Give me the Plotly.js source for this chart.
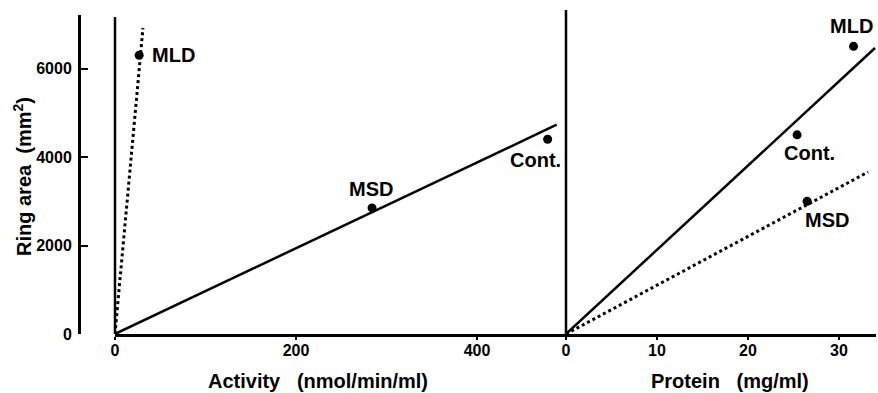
<!DOCTYPE html>
<html>
<head>
<meta charset="utf-8">
<script src="https://cdn.plot.ly/plotly-3.0.1.min.js"></script>
<style>html,body{margin:0;padding:0;background:#fff;}#chart{width:878px;height:393px;}</style>
</head>
<body>
<div id="chart"></div>
<script>
// ---- data ----
const sampleNames = ["MLD", "MSD", "Cont."];
// left panel: Activity (nmol/min/ml) vs Ring area
const activityX = [26.7, 284, 478];
const activityY = [6300, 2850, 4400];
// right panel: Protein (mg/ml) vs Ring area
const proteinX = [31.6, 26.5, 25.4];
const proteinY = [6500, 3000, 4500];
// regression lines (start, end)
const actSolidX = [0, 488];   const actSolidY = [0, 4730];
const actDotX   = [0, 30.9];  const actDotY   = [0, 6915];
const proSolidX = [0, 33.96]; const proSolidY = [0, 6463];
const proDotX   = [0, 33.2];  const proDotY   = [0, 3661];
const yTicks = [0, 2000, 4000, 6000];
const actTicks = [0, 200, 400];
const proTicks = [0, 10, 20, 30];

const FONT = "Liberation Sans, Arial, sans-serif";
const black = "#000";

const traces = [
  {x: actSolidX, y: actSolidY, xaxis: "x", yaxis: "y", mode: "lines",
   line: {color: black, width: 2.5}, hoverinfo: "skip"},
  {x: actDotX, y: actDotY, xaxis: "x", yaxis: "y", mode: "lines",
   line: {color: black, width: 3, dash: "3px,3px"}, hoverinfo: "skip"},
  {x: activityX, y: activityY, xaxis: "x", yaxis: "y", mode: "markers",
   marker: {color: black, size: 9}},
  {x: proSolidX, y: proSolidY, xaxis: "x2", yaxis: "y", mode: "lines",
   line: {color: black, width: 2.5}, hoverinfo: "skip"},
  {x: proDotX, y: proDotY, xaxis: "x2", yaxis: "y", mode: "lines",
   line: {color: black, width: 3, dash: "3px,3px"}, hoverinfo: "skip"},
  {x: proteinX, y: proteinY, xaxis: "x2", yaxis: "y", mode: "markers",
   marker: {color: black, size: 9}}
];

// label offsets (pixels) for each point label
const actOffsets = [[11, 0, "left"], [-1, 19, "center"], [-12, -21, "center"]];
const proOffsets = [[-2, 20, "center"], [20, -19, "center"], [12, -18, "center"]];

const annotations = [];
sampleNames.forEach((n, i) => {
  annotations.push({x: activityX[i], y: activityY[i], xref: "x", yref: "y", text: "<b>" + n + "</b>",
    showarrow: false, xanchor: actOffsets[i][2], yanchor: "middle",
    xshift: actOffsets[i][0], yshift: actOffsets[i][1], font: {family: FONT, size: 20, color: black}});
  annotations.push({x: proteinX[i], y: proteinY[i], xref: "x2", yref: "y", text: "<b>" + n + "</b>",
    showarrow: false, xanchor: proOffsets[i][2], yanchor: "middle",
    xshift: proOffsets[i][0], yshift: proOffsets[i][1], font: {family: FONT, size: 20, color: black}});
});
// axis titles
annotations.push({xref: "paper", yref: "paper", x: 318/878, y: (393-381)/393, showarrow: false,
  text: "<b>Activity\u00a0\u00a0\u00a0(nmol/min/ml)</b>", xanchor: "center", yanchor: "middle",
  font: {family: FONT, size: 20, color: black}});
annotations.push({xref: "paper", yref: "paper", x: 730/878, y: (393-381)/393, showarrow: false,
  text: "<b>Protein\u00a0\u00a0\u00a0(mg/ml)</b>", xanchor: "center", yanchor: "middle",
  font: {family: FONT, size: 20, color: black}});
annotations.push({xref: "paper", yref: "paper", x: 22/878, y: (393-177)/393, showarrow: false,
  text: "<b>Ring area\u00a0\u00a0(mm<sup>2</sup>)</b>", textangle: -90, xanchor: "center", yanchor: "middle",
  font: {family: FONT, size: 20, color: black}});

const yBot = (393-334)/393, yTop = (393-15)/393;
const layout = {
  width: 878, height: 393,
  margin: {l: 0, r: 0, t: 0, b: 0},
  paper_bgcolor: "#fff", plot_bgcolor: "rgba(0,0,0,0)",
  showlegend: false,
  xaxis: {domain: [115/878, 566/878], range: [0, 498.3], anchor: "y",
    showline: true, linecolor: black, linewidth: 2.5, showgrid: false, zeroline: false,
    ticks: "outside", ticklen: 3, tickwidth: 2, tickcolor: black, ticklabelstandoff: -3,
    tickvals: actTicks, ticktext: actTicks.map(v => "<b>" + v + "</b>"),
    tickfont: {family: FONT, size: 16, color: black}},
  xaxis2: {domain: [566/878, 876/878], range: [0, 34.07], anchor: "y",
    showline: true, linecolor: black, linewidth: 2.5, showgrid: false, zeroline: false,
    ticks: "outside", ticklen: 3, tickwidth: 2, tickcolor: black, ticklabelstandoff: -3,
    tickvals: proTicks, ticktext: proTicks.map(v => "<b>" + v + "</b>"),
    tickfont: {family: FONT, size: 16, color: black}},
  yaxis: {domain: [yBot, yTop], range: [0, 7209], anchor: "free", position: 79/878,
    showline: true, linecolor: black, linewidth: 2.5, showgrid: false, zeroline: false,
    ticks: "inside", ticklen: 7, tickwidth: 2, tickcolor: black, ticklabelstandoff: 3,
    tickvals: yTicks, ticktext: yTicks.map(v => "<b>" + v + "</b>"),
    tickfont: {family: FONT, size: 16, color: black}},
  shapes: [
    {type: "line", xref: "paper", yref: "paper", x0: 115/878, x1: 115/878, y0: yBot, y1: (393-17)/393,
     line: {color: black, width: 2.5}},
    {type: "line", xref: "paper", yref: "paper", x0: 566/878, x1: 566/878, y0: (393-336)/393, y1: (393-10)/393,
     line: {color: black, width: 2.5}}
  ],
  annotations: annotations
};

Plotly.newPlot("chart", traces, layout, {staticPlot: true, displayModeBar: false});
</script>
</body>
</html>
